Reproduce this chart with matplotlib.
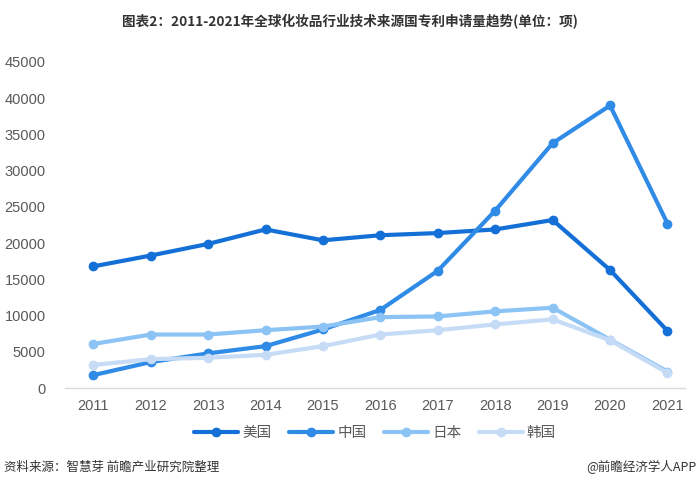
import matplotlib
matplotlib.use("Agg")
import matplotlib.pyplot as plt

plt.rcParams['font.family'] = ['Noto Sans CJK SC', 'DejaVu Sans']

years = [2011, 2012, 2013, 2014, 2015, 2016, 2017, 2018, 2019, 2020, 2021]
usa = [16800, 18300, 19900, 21900, 20400, 21100, 21400, 21900, 23200, 16300, 7900]
china = [1800, 3600, 4800, 5800, 8100, 10800, 16200, 24500, 33800, 39000, 22700]
japan = [6100, 7400, 7400, 8000, 8500, 9800, 9900, 10600, 11100, 6700, 2300]
korea = [3200, 4000, 4200, 4600, 5800, 7400, 8000, 8800, 9500, 6600, 2100]
series_names = ['美国', '中国', '日本', '韩国']
colors = ['#1470d6', '#2f8be6', '#8cc3f5', '#c6dcf6']
yticks = [0, 5000, 10000, 15000, 20000, 25000, 30000, 35000, 40000, 45000]

fig = plt.figure(figsize=(7, 4.92), dpi=100)
ax = fig.add_axes([0.093, 0.211, 0.886, 0.663])

for vals, name, c in zip([usa, china, japan, korea], series_names, colors):
    ax.plot(years, vals, color=c, lw=3, marker='o', ms=6, label=name,
            solid_capstyle='round')

ax.set_xlim(2010.51, 2021.31)
ax.set_ylim(0, 45000)
ax.set_yticks(yticks)
ax.set_yticklabels([str(v) for v in yticks], family=['Liberation Sans'])
ax.set_xticks(years)
ax.set_xticklabels([str(y) for y in years], family=['Liberation Sans'])
for s in ['top', 'right', 'left']:
    ax.spines[s].set_visible(False)
ax.spines['bottom'].set_color('#d9d9d9')
ax.spines['bottom'].set_linewidth(1)
ax.tick_params(axis='both', length=0, labelsize=10.5, colors='#595959', pad=8)
ax.tick_params(axis='y', pad=14)

leg = ax.legend(loc='upper center', bbox_to_anchor=(0.5, -0.075), ncol=4,
                frameon=False, fontsize=10.5, handlelength=3, columnspacing=1.2,
                handletextpad=0.3)
for t in leg.get_texts():
    t.set_color('#595959')

fig.text(0.5, 0.955, '图表2：2011-2021年全球化妆品行业技术来源国专利申请量趋势(单位：项)',
         ha='center', va='center', fontsize=9.8, fontweight='bold', color='#333333')
fig.text(0.005, 0.05, '资料来源：智慧芽 前瞻产业研究院整理', ha='left', va='center',
         fontsize=9, color='#333333')
fig.text(0.995, 0.05, '@前瞻经济学人APP', ha='right', va='center',
         fontsize=9, color='#333333')

fig.savefig('out.png', dpi=100)
